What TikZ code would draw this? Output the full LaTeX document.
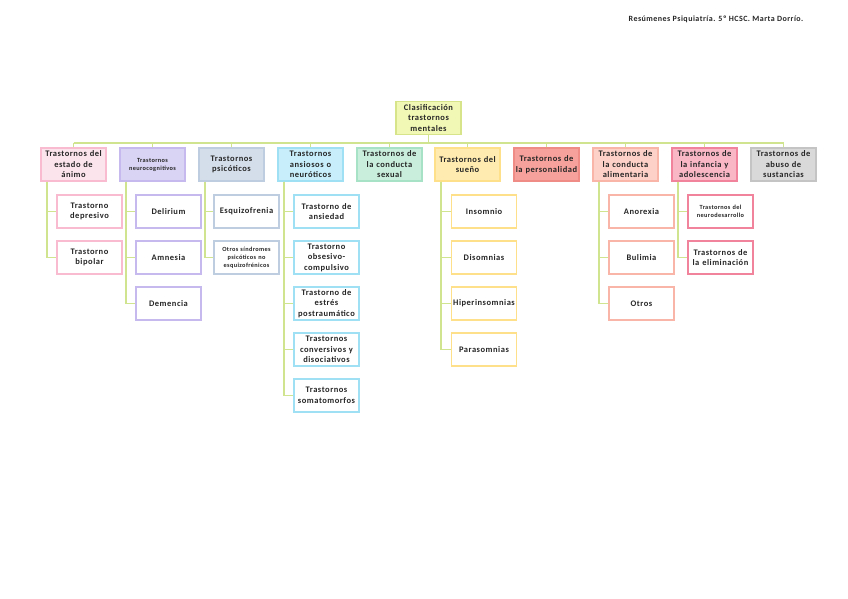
\documentclass[tikz,border=0pt]{standalone}
\usepackage{fontspec}
\setmainfont{Carlito}
\newfontfamily\boxfont[LetterSpace=6]{Carlito}
\definecolor{lc}{HTML}{D0E38E}
\definecolor{rootF}{HTML}{F1F7B5}\definecolor{rootD}{HTML}{D8E48A}
\definecolor{aF}{HTML}{FCE4EC}\definecolor{aD}{HTML}{F8BBD0}
\definecolor{bF}{HTML}{DAD4F4}\definecolor{bD}{HTML}{C5B9EE}
\definecolor{cF}{HTML}{D4DEEA}\definecolor{cD}{HTML}{BFCDE0}
\definecolor{dF}{HTML}{C7EEFA}\definecolor{dD}{HTML}{A0E0F4}
\definecolor{eF}{HTML}{C9EEDB}\definecolor{eD}{HTML}{A8E2C6}
\definecolor{fF}{HTML}{FFEBAF}\definecolor{fD}{HTML}{FFE08A}
\definecolor{gF}{HTML}{F6A19B}\definecolor{gD}{HTML}{F08C86}
\definecolor{hF}{HTML}{FDD1C8}\definecolor{hD}{HTML}{F9B5A8}
\definecolor{iF}{HTML}{F9B7C6}\definecolor{iD}{HTML}{F2839C}
\definecolor{jF}{HTML}{D9D9D9}\definecolor{jD}{HTML}{C4C4C4}
\tikzset{
  box/.style={draw, line width=1.2pt, minimum width=65, minimum height=33, text width=64, inner sep=0.5pt, align=center, font=\boxfont\fontsize{8.5}{10.5}\selectfont\bfseries, text=black!85},
  smalltxt/.style={font=\boxfont\fontsize{6.3}{8}\selectfont\bfseries},
  conn/.style={draw=lc, line width=1.9pt},
}
\begin{document}
\begin{tikzpicture}[x=1pt,y=-1pt]
\useasboundingbox[fill=white] (0,0) rectangle (848,599);
\coordinate (busL) at (73.5,143);
\coordinate (busR) at (783.5,143);
\node[font=\boxfont\fontsize{8}{9}\selectfont\bfseries, text=black!85] (hdr) at (716,19) {Resúmenes Psiquiatría. 5º HCSC. Marta Dorrío.};
\node[box, fill=rootF, draw=rootD] (root) at (428.5,118) {Clasificación\\trastornos\\mentales};
% top level
\node[box, fill=aF, draw=aD] (a) at (73.5,164.5) {Trastornos del\\estado de\\ánimo};
\node[box, fill=bF, draw=bD, smalltxt] (b) at (152.5,164.5) {Trastornos\\neurocognitivos};
\node[box, fill=cF, draw=cD] (c) at (231.5,164.5) {Trastornos\\psicóticos};
\node[box, fill=dF, draw=dD] (d) at (310.5,164.5) {Trastornos\\ansiosos o\\neuróticos};
\node[box, fill=eF, draw=eD] (e) at (389.5,164.5) {Trastornos de\\la conducta\\sexual};
\node[box, fill=fF, draw=fD] (f) at (467.5,164.5) {Trastornos del\\sueño};
\node[box, fill=gF, draw=gD] (g) at (546.5,164.5) {Trastornos de\\la personalidad};
\node[box, fill=hF, draw=hD] (h) at (625.5,164.5) {Trastornos de\\la conducta\\alimentaria};
\node[box, fill=iF, draw=iD] (i) at (704.5,164.5) {Trastornos de\\la infancia y\\adolescencia};
\node[box, fill=jF, draw=jD] (j) at (783.5,164.5) {Trastornos de\\abuso de\\sustancias};
% children
\node[box, fill=white, draw=aD] (a1) at (89.5,211.5) {Trastorno\\depresivo};
\node[box, fill=white, draw=aD] (a2) at (89.5,257.5) {Trastorno\\bipolar};
\node[box, fill=white, draw=bD] (b1) at (168.5,211.5) {Delirium};
\node[box, fill=white, draw=bD] (b2) at (168.5,257.5) {Amnesia};
\node[box, fill=white, draw=bD] (b3) at (168.5,303.5) {Demencia};
\node[box, fill=white, draw=cD] (c1) at (246.5,211.5) {Esquizofrenia};
\node[box, fill=white, draw=cD, smalltxt] (c2) at (246.5,257.5) {Otros síndromes\\psicóticos no\\esquizofrénicos};
\node[box, fill=white, draw=dD] (d1) at (326.5,211.5) {Trastorno de\\ansiedad};
\node[box, fill=white, draw=dD] (d2) at (326.5,257.5) {Trastorno\\obsesivo-\\compulsivo};
\node[box, fill=white, draw=dD] (d3) at (326.5,303.5) {Trastorno de\\estrés\\postraumático};
\node[box, fill=white, draw=dD] (d4) at (326.5,349.5) {Trastornos\\conversivos y\\disociativos};
\node[box, fill=white, draw=dD] (d5) at (326.5,395.5) {Trastornos\\somatomorfos};
\node[box, fill=white, draw=fD] (f1) at (484,211.5) {Insomnio};
\node[box, fill=white, draw=fD] (f2) at (484,257.5) {Disomnias};
\node[box, fill=white, draw=fD] (f3) at (484,303.5) {Hiperinsomnias};
\node[box, fill=white, draw=fD] (f4) at (484,349.5) {Parasomnias};
\node[box, fill=white, draw=hD] (h1) at (641.5,211.5) {Anorexia};
\node[box, fill=white, draw=hD] (h2) at (641.5,257.5) {Bulimia};
\node[box, fill=white, draw=hD] (h3) at (641.5,303.5) {Otros};
\node[box, fill=white, draw=iD, smalltxt] (i1) at (720.5,211.5) {Trastornos del\\neurodesarrollo};
\node[box, fill=white, draw=iD] (i2) at (720.5,257.5) {Trastornos de\\la eliminación};
% connectors
\draw[conn] (busL) -- (busR);
\draw[conn] (root.south) -- (root.south |- busL);
\foreach \n in {a,b,c,d,e,f,g,h,i,j}{\draw[conn] (\n.north) -- (\n.north |- busL);}
\foreach \p/\c in {a/a1,a/a2,b/b1,b/b2,b/b3,c/c1,c/c2,d/d1,d/d2,d/d3,d/d4,d/d5,f/f1,f/f2,f/f3,f/f4,h/h1,h/h2,h/h3,i/i1,i/i2}{
  \draw[conn] ([xshift=6.5pt]\p.south west) |- (\c.west);}
\end{tikzpicture}
\end{document}
